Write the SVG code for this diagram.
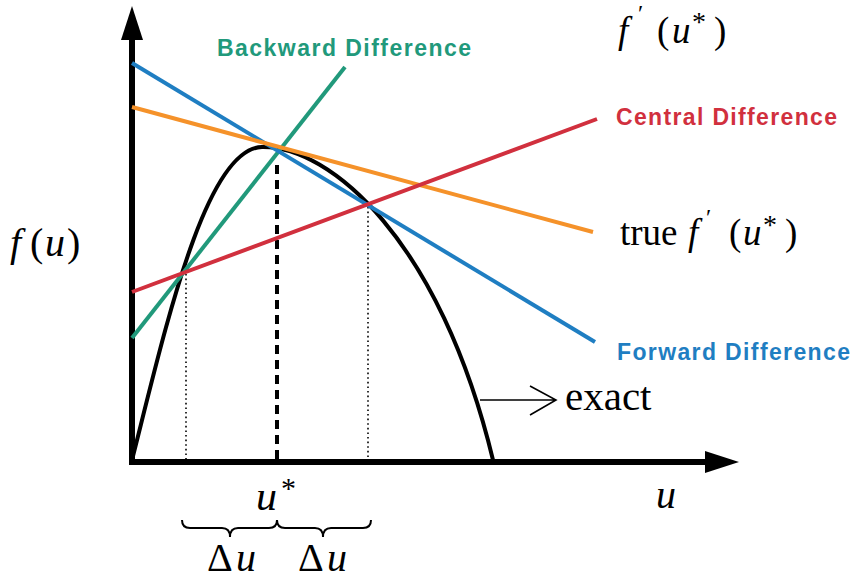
<svg xmlns="http://www.w3.org/2000/svg" width="854" height="579" viewBox="0 0 854 579">
<style>
.math{font-family:"Liberation Serif","Times New Roman",serif;fill:#000}
.it{font-style:italic}
.lbl{font-family:"Liberation Sans",Arial,sans-serif;font-weight:bold;font-size:23px}
.ln{stroke-width:4;fill:none;stroke-linecap:butt}
.blue{stroke:#1f7ec2}.orange{stroke:#f5922a}.green{stroke:#21997b}.red{stroke:#d1303e}
</style>
<rect width="854" height="579" fill="#fff"/>
<g id="axes">
<line x1="132" y1="464" x2="132" y2="38" stroke="#000" stroke-width="6"/>
<polygon points="132,6 121,40 143,40" fill="#000"/>
<line x1="129" y1="462" x2="707" y2="462" stroke="#000" stroke-width="6"/>
<polygon points="739,462 705,451 705,473" fill="#000"/>
</g>
<g id="guides">
<line x1="277" y1="165" x2="277" y2="459" stroke="#000" stroke-width="4" stroke-dasharray="9,6"/>
<line x1="186" y1="274" x2="186" y2="459" stroke="#000" stroke-width="1.6" stroke-dasharray="1.6,3"/>
<line x1="368" y1="207" x2="368" y2="459" stroke="#000" stroke-width="1.6" stroke-dasharray="1.6,3"/>
</g>
<g id="exact-curve">
<path d="M132,460 C165,330 205,148 262,147 C330,146 440,240 493,460" fill="none" stroke="#000" stroke-width="4"/>
</g>
<g id="connectors">
<line class="ln green" x1="132" y1="338" x2="345" y2="67"/>
<line class="ln blue" x1="132" y1="63" x2="595" y2="342"/>
<line class="ln orange" x1="132" y1="107" x2="593" y2="232"/>
<line class="ln red" x1="132" y1="292" x2="597" y2="119"/>
<path d="M480,400 L556,400 M530,386 L556,400 L530,415" fill="none" stroke="#000" stroke-width="1.6"/>
</g>
<g id="label-backward"><text class="lbl" x="217" y="56" fill="#21997b" textLength="254" lengthAdjust="spacing">Backward Difference</text></g>
<g id="label-central"><text class="lbl" x="616" y="125" fill="#d1303e" textLength="221" lengthAdjust="spacing">Central Difference</text></g>
<g id="label-forward"><text class="lbl" x="617" y="360" fill="#1f7ec2" textLength="233" lengthAdjust="spacing">Forward Difference</text></g>
<g id="label-fprime">
<text class="math" font-size="37" y="43"><tspan class="it" x="618">f</tspan><tspan x="638" y="21" font-size="24">′</tspan><tspan x="657" y="43">(</tspan><tspan class="it" x="672">u</tspan><tspan x="692" y="31" font-size="28">*</tspan><tspan x="714" y="43">)</tspan></text>
</g>
<g id="label-true">
<text class="math" font-size="37" y="245"><tspan x="620">true</tspan><tspan class="it" x="688">f</tspan><tspan x="706" y="225" font-size="24">′</tspan><tspan x="729" y="245">(</tspan><tspan class="it" x="743">u</tspan><tspan x="763" y="234" font-size="28">*</tspan><tspan x="785" y="245">)</tspan></text>
</g>
<g id="label-fu">
<text class="math" font-size="40" y="256"><tspan class="it" x="10">f</tspan><tspan x="30">(</tspan><tspan class="it" x="45">u</tspan><tspan x="67">)</tspan></text>
</g>
<g id="label-exact"><text class="math" font-size="41" x="565" y="410">exact</text></g>
<g id="label-u"><text class="math it" font-size="40" x="656" y="508">u</text></g>
<g id="label-ustar">
<text class="math" font-size="42" y="510"><tspan class="it" x="256">u</tspan><tspan x="281" y="498" font-size="30">*</tspan></text>
</g>
<g id="brace">
<path d="M182,520 Q182,528 190,528 L222,528 Q230,528 230,537 Q230,528 238,528 L269,528 Q277,528 277,520 Q277,528 285,528 L315,528 Q323,528 323,537 Q323,528 331,528 L363,528 Q371,528 371,520" fill="none" stroke="#000" stroke-width="2"/>
</g>
<g id="label-du">
<text class="math" font-size="40" y="571"><tspan x="207">Δ</tspan><tspan class="it" x="236">u</tspan><tspan x="298">Δ</tspan><tspan class="it" x="327">u</tspan></text>
</g>
</svg>
